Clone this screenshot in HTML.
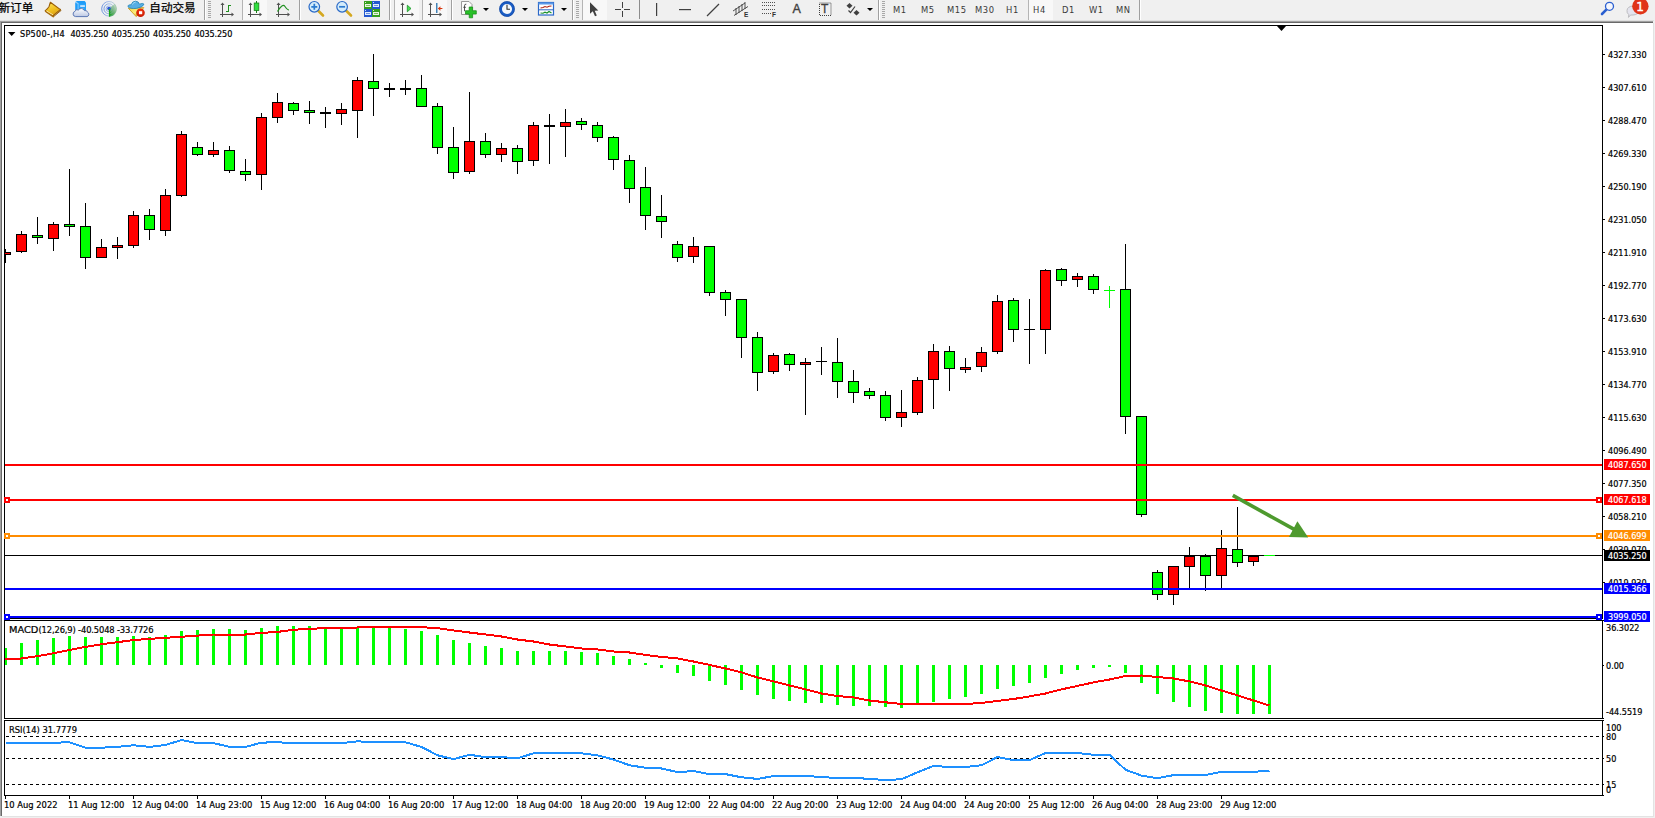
<!DOCTYPE html>
<html lang="zh-CN"><head><meta charset="utf-8"><title>SP500-,H4</title>
<style>
html,body{margin:0;padding:0}
body{width:1655px;height:818px;overflow:hidden;position:relative;background:#f0f0f0;
font-family:"Liberation Sans","Noto Sans CJK SC",sans-serif}
.win{position:absolute;left:0;top:21px;width:1653px;height:795px;background:#fff;
border-left:1px solid #a0a0a0;border-top:1px solid #a0a0a0;box-sizing:border-box}
.win:before{content:"";position:absolute;left:0;top:0;right:0;bottom:0;border-left:1px solid #696969;border-top:1px solid #696969}
.edge-r{position:absolute;left:1653px;top:23px;width:1px;height:794px;background:#e3e3e3}
.edge-b{position:absolute;left:2px;top:816px;width:1652px;height:1px;background:#e3e3e3}
.chart{position:absolute;left:0;top:0}
.t{position:absolute;font-family:"DejaVu Sans Condensed","DejaVu Sans","Liberation Sans",sans-serif;font-stretch:condensed;font-size:9.3px;line-height:11px;height:11px;white-space:nowrap;color:#000;-webkit-text-stroke:.2px #000}
.n{font-size:9px}
.ti{font-size:9px;letter-spacing:.07px}
.tag{position:absolute;left:1604px;width:46px;height:11px;box-sizing:border-box;padding-left:4px;
font-family:"DejaVu Sans Condensed","DejaVu Sans","Liberation Sans",sans-serif;font-stretch:condensed;font-size:9px;line-height:11px;padding-top:1px;color:#fff;white-space:nowrap;-webkit-text-stroke:.2px #fff}
.tb{position:absolute;left:0;top:0;width:1655px;height:21px;background:#f0f0f0;overflow:hidden}
.tb .cj{position:absolute;top:0px;font-size:11.600px;line-height:15px;color:#000;white-space:nowrap;-webkit-text-stroke:.25px #000}
.tb svg{position:absolute;top:0;overflow:visible}
.tb .sep{position:absolute;top:0;width:1px;height:20px;background:#a0a0a0;box-shadow:1px 0 0 #fff}
.tb .grip{position:absolute;top:1px;width:3px;height:18px;background:repeating-linear-gradient(to bottom,#a8a8a8 0,#a8a8a8 1px,#f0f0f0 1px,#f0f0f0 2px)}
.tb .on{position:absolute;top:0;height:20px;background:#f8f8f8;border-left:1px solid #b4b4b4;box-sizing:border-box}
.tb .tf{position:absolute;top:4px;font-family:"DejaVu Sans Condensed","DejaVu Sans","Liberation Sans",sans-serif;font-stretch:condensed;font-size:9.3px;line-height:11px;color:#3a3a3a;white-space:nowrap;letter-spacing:.6px}
.tb .dd{position:absolute;top:8px;width:0;height:0;border-left:3px solid transparent;border-right:3px solid transparent;border-top:3.5px solid #000}
.tb .bdg{position:absolute;left:1634.500px;top:1px;width:11px;text-align:center;font:12px/13px "DejaVu Sans","Liberation Sans",sans-serif;color:#fff;-webkit-text-stroke:.4px #fff}
.tb .ia{position:absolute;left:792.500px;top:2px;font-size:12.500px;line-height:15px;color:#404040;-webkit-text-stroke:.35px #404040}
.tb .it{position:absolute;left:821px;top:3px;font-size:12px;line-height:13px;color:#404040;-webkit-text-stroke:.3px #404040}
.tb .ie{position:absolute;top:11px;font-size:6.5px;line-height:7px;color:#303030;font-weight:bold}
.hr1{position:absolute;left:0;top:20px;width:1654px;height:1px;background:#e0e0e0}

</style></head><body>
<div class="tb">
<div class="cj" style="left:-1.500px">新订单</div>
<svg style="left:44px" width="18" height="20" viewBox="0 0 18 20"><defs><linearGradient id="gd" x1="0.2" y1="0" x2="0.7" y2="1"><stop offset="0" stop-color="#fbe258"/><stop offset="0.55" stop-color="#f0c020"/><stop offset="1" stop-color="#d89c14"/></linearGradient></defs><path d="M9.6,16.6 L17,10.5 L16.2,9.2 L9.2,15.2 z" fill="#d8c088" stroke="#8c5408" stroke-width="0.9"/><path d="M6.4,2.2 L16.4,9.6 L9.1,15.6 L1.1,10.9 Q4.4,8 5.1,6.4 Q5.7,4.2 6.4,2.2 z" fill="url(#gd)" stroke="#9a5e08" stroke-width="1.1" stroke-linejoin="round"/><path d="M1.2,11.3 L9.2,16.7 L9.9,16.4" fill="none" stroke="#a86c0c" stroke-width="1.2"/><path d="M2.4,10.9 L9,14.8" fill="none" stroke="#f8e498" stroke-width="1"/></svg>
<svg style="left:72px" width="18" height="20" viewBox="0 0 18 20"><defs><linearGradient id="cl" x1="0" y1="0" x2="0" y2="1"><stop offset="0" stop-color="#ffffff"/><stop offset="1" stop-color="#bcc8e4"/></linearGradient></defs><path d="M3.2,2 L5,1.1 L12.6,1.1 L14,2.4 L14,10.5 L3.2,10.5 z" fill="#1e9cf8"/><path d="M3.2,2.2 L6.2,3.4 L6.2,10.5" fill="none" stroke="#e8f4ff" stroke-width="0.7"/><rect x="6.600" y="3.600" width="7" height="6.500" fill="#2aa4fa"/><rect x="8.200" y="5.300" width="4.700" height="1.500" fill="#eaf4ff"/><rect x="8.200" y="8" width="3" height="1" fill="#d0e8ff"/><path d="M3.600,16.600 a2.700,2.700 0 0 1 -0.500,-5.300 a2.300,2.300 0 0 1 3.300,-1.300 a3.400,3.400 0 0 1 6,0.600 a2.600,2.600 0 0 1 3.200,1.700 a2.300,2.300 0 0 1 -0.600,4.300 z" fill="url(#cl)" stroke="#4e6cae" stroke-width="0.9"/></svg>
<svg style="left:100px" width="18" height="20" viewBox="0 0 18 20"><defs><linearGradient id="gw" x1="0.9" y1="0" x2="0.2" y2="1"><stop offset="0" stop-color="#b4d4b0" stop-opacity="0.55"/><stop offset="0.55" stop-color="#60b060" stop-opacity="0.85"/><stop offset="1" stop-color="#18a018"/></linearGradient></defs><circle cx="9" cy="8.800" r="7.600" fill="#e8eef4" fill-opacity="0.6"/><path d="M9,8.800 L9,16.500 A7.700,7.700 0 0 0 14.800,3.700 z" fill="url(#gw)"/><linearGradient id="rg" gradientUnits="userSpaceOnUse" x1="1" y1="0" x2="17" y2="0"><stop offset="0" stop-color="#4c7cd8" stop-opacity="0.95"/><stop offset="0.5" stop-color="#7c9ce0" stop-opacity="0.6"/><stop offset="1" stop-color="#7caa9c" stop-opacity="0.35"/></linearGradient><g fill="none" stroke="url(#rg)"><circle cx="9" cy="8.800" r="7.300" stroke-width="0.9"/><circle cx="9" cy="8.800" r="5" stroke-width="1"/><circle cx="9" cy="8.800" r="2.900" stroke-width="0.9"/></g><circle cx="9" cy="8.600" r="1.800" fill="#2a58d4"/><rect x="8.900" y="8.900" width="1.300" height="7.700" fill="#18a418"/></svg>
<svg style="left:127px" width="20" height="20" viewBox="0 0 20 20"><defs><linearGradient id="yf" x1="0" y1="0" x2="0.6" y2="1"><stop offset="0" stop-color="#f4d040"/><stop offset="0.6" stop-color="#fbf080"/><stop offset="1" stop-color="#e0a818"/></linearGradient><radialGradient id="rd" cx="0.5" cy="0.35" r="0.7"><stop offset="0" stop-color="#f83a10"/><stop offset="1" stop-color="#c01400"/></radialGradient></defs><path d="M1.300,8.200 L16.800,7.600 L9.200,16.600 z" fill="url(#yf)" stroke="#c8920c" stroke-width="0.8" stroke-linejoin="round"/><path d="M1,6.800 Q0.600,4.500 4.200,4.800 Q5.200,1 8.600,1.200 Q11.800,1.300 12.400,4.200 Q15.800,2.600 17,4.200 Q16.200,7.200 9.400,8.400 Q3,9 1,6.800 z" fill="#56aee4" stroke="#2484b4" stroke-width="0.8"/><path d="M5.400,4.600 Q6.400,2 8.600,2.200" fill="none" stroke="#a8dcf8" stroke-width="0.9"/><circle cx="13.500" cy="12.800" r="4.300" fill="url(#rd)"/><rect x="12" y="11.200" width="3.200" height="3" fill="#fff"/></svg>
<div class="cj" style="left:149.300px">自动交易</div>
<div class="sep" style="left:204px"></div><div class="grip" style="left:208px"></div>
<svg style="left:218px" width="18" height="20" viewBox="0 0 18 20" shape-rendering="crispEdges"><rect x="4" y="4" width="1" height="13" fill="#505050"/><rect x="2" y="14" width="12" height="1" fill="#505050"/><polygon points="4.5,2.5 6.5,5 2.5,5" fill="#505050" shape-rendering="geometricPrecision"/><polygon points="16,14.5 13.5,12.5 13.5,16.5" fill="#505050" shape-rendering="geometricPrecision"/><rect x="10" y="4.500" width="1.300" height="7.5" fill="#209020"/><rect x="10" y="4.500" width="3" height="1.200" fill="#209020"/><rect x="8" y="11" width="3" height="1.200" fill="#209020"/></svg>
<div class="on" style="left:242px;width:25px"></div>
<svg style="left:246px" width="18" height="20" viewBox="0 0 18 20" shape-rendering="crispEdges"><rect x="4" y="4" width="1" height="13" fill="#505050"/><rect x="2" y="14" width="12" height="1" fill="#505050"/><polygon points="4.500,2.500 6.500,5 2.500,5" fill="#505050" shape-rendering="geometricPrecision"/><polygon points="16,14.500 13.500,12.500 13.500,16.500" fill="#505050" shape-rendering="geometricPrecision"/><rect x="10" y="1" width="1.200" height="12" fill="#188018"/><rect x="8.200" y="3" width="4.600" height="7.500" fill="#30e040" stroke="#188018" stroke-width="0.8" shape-rendering="geometricPrecision"/></svg>
<svg style="left:274px" width="18" height="20" viewBox="0 0 18 20"><rect x="4" y="4" width="1" height="13" fill="#505050"/><rect x="2" y="14" width="12" height="1" fill="#505050"/><polygon points="4.500,2.500 6.500,5 2.500,5" fill="#505050"/><polygon points="16,14.500 13.500,12.500 13.500,16.500" fill="#505050"/><path d="M3.500,11.500 Q8.500,3 11,6.500 T15,10" fill="none" stroke="#209020" stroke-width="1.200"/></svg>
<div class="sep" style="left:299px"></div>
<svg style="left:306px" width="20" height="20" viewBox="0 0 20 20"><line x1="12" y1="10.500" x2="17" y2="15.500" stroke="#d4a820" stroke-width="2.600" stroke-linecap="round"/><circle cx="8.300" cy="6.800" r="5.300" fill="#d4ecfa" stroke="#2a6ac8" stroke-width="1.200"/><path d="M5.300,6.800 h6 M8.300,3.800 v6" stroke="#2a7ad0" stroke-width="1.700" fill="none"/></svg>
<svg style="left:334px" width="20" height="20" viewBox="0 0 20 20"><line x1="12" y1="10.500" x2="17" y2="15.500" stroke="#d4a820" stroke-width="2.600" stroke-linecap="round"/><circle cx="8.100" cy="6.800" r="5.300" fill="#d4ecfa" stroke="#2a6ac8" stroke-width="1.200"/><path d="M5.100,6.800 h6" stroke="#2a7ad0" stroke-width="1.700" fill="none"/></svg>
<svg style="left:364px" width="17" height="20" viewBox="0 0 17 20" shape-rendering="crispEdges"><rect x="0" y="1" width="8" height="8" fill="#38a020"/><rect x="8" y="1" width="8" height="8" fill="#2458d0"/><rect x="0" y="9" width="8" height="8" fill="#2458d0"/><rect x="8" y="9" width="8" height="8" fill="#38a020"/><rect x="1" y="4" width="6" height="3" fill="#eaf6e2"/><rect x="9" y="4" width="6" height="3" fill="#e0ecfc"/><rect x="1" y="12" width="6" height="3" fill="#e0ecfc"/><rect x="9" y="12" width="6" height="3" fill="#eaf6e2"/><rect x="2" y="5" width="4" height="1" fill="#7cc060"/><rect x="10" y="5" width="4" height="1" fill="#6a90e0"/><rect x="2" y="13" width="4" height="1" fill="#6a90e0"/><rect x="10" y="13" width="4" height="1" fill="#7cc060"/><rect x="1" y="2" width="1" height="1" fill="#d8f0c8"/><rect x="9" y="2" width="1" height="1" fill="#c8dcfa"/><rect x="1" y="10" width="1" height="1" fill="#c8dcfa"/><rect x="9" y="10" width="1" height="1" fill="#d8f0c8"/></svg>
<div class="sep" style="left:389px"></div>
<div class="on" style="left:394px;width:25px"></div>
<svg style="left:398px" width="18" height="20" viewBox="0 0 18 20"><rect x="4" y="4" width="1" height="13" fill="#505050"/><rect x="2" y="14" width="12" height="1" fill="#505050"/><polygon points="4.500,2.500 6.500,5 2.500,5" fill="#505050"/><polygon points="16,14.500 13.500,12.500 13.500,16.500" fill="#505050"/><polygon points="9.300,5.200 13,8.500 9.300,11.800" fill="#48e050" stroke="#189028" stroke-width="0.800"/></svg>
<div class="on" style="left:422px;width:25px"></div>
<svg style="left:426px" width="18" height="20" viewBox="0 0 18 20"><rect x="4" y="4" width="1" height="13" fill="#505050"/><rect x="2" y="14" width="12" height="1" fill="#505050"/><polygon points="4.500,2.500 6.500,5 2.500,5" fill="#505050"/><polygon points="16,14.500 13.500,12.500 13.500,16.500" fill="#505050"/><rect x="10.200" y="3" width="1.200" height="10" fill="#1868a8"/><path d="M11.800,8.500 l2.600,-2.300 v1.700 h2 v1.200 h-2 v1.700 z" fill="#d83810"/></svg>
<div class="sep" style="left:451px"></div>
<svg style="left:459px" width="20" height="20" viewBox="0 0 20 20"><path d="M2.500,1.500 h7.500 l3,3 v10 h-10.500 z" fill="#fcfcfc" stroke="#909090" stroke-width="0.900"/><path d="M7.300,4.200 q-1.800,-0.300 -1.800,1.600 v5.400 M4.300,7.300 h2.600" fill="none" stroke="#404040" stroke-width="0.900"/><path d="M10.200,7 h3.400 v3.700 h3.700 v3.400 h-3.700 v3.700 h-3.400 v-3.700 h-3.700 v-3.400 h3.700 z" fill="#28c028" stroke="#108810" stroke-width="0.700"/></svg>
<div class="dd" style="left:483px"></div>
<svg style="left:498px" width="18" height="20" viewBox="0 0 18 20"><circle cx="9" cy="9" r="6.400" fill="#f4f8fc" stroke="#1a5cc4" stroke-width="2.700"/><circle cx="9" cy="9" r="7.500" fill="none" stroke="#0c3c94" stroke-width="0.5"/><path d="M9,4.800 v4.400 h3" fill="none" stroke="#303030" stroke-width="1.100"/></svg>
<div class="dd" style="left:522px"></div>
<svg style="left:537px" width="18" height="20" viewBox="0 0 18 20"><rect x="1.500" y="2.500" width="15" height="12.500" fill="#fff" stroke="#2a68c8" stroke-width="1.200"/><rect x="1.500" y="2.500" width="15" height="2" fill="#5a98e8"/><rect x="2" y="9.300" width="14" height="1" fill="#2a68c8"/><polyline points="3.500,8 6,7.500 8,6.500 10,7.200 12,6.300 14.500,6" fill="none" stroke="#b02010" stroke-width="1.100"/><polyline points="3.500,13 6,13.300 8,12.200 10,13 12,11.500 14.500,13" fill="none" stroke="#189028" stroke-width="1.100"/></svg>
<div class="dd" style="left:561px"></div>
<div class="sep" style="left:572px"></div><div class="grip" style="left:576px"></div>
<div class="on" style="left:582px;width:25px"></div>
<svg style="left:586px" width="16" height="20" viewBox="0 0 16 20"><path d="M4,2.200 L4,13.800 L6.800,11.300 L9,16.300 L10.800,15.500 L8.700,10.700 L12.300,10.500 z" fill="#404040"/></svg>
<svg style="left:613px" width="20" height="20" viewBox="0 0 20 20" shape-rendering="crispEdges"><rect x="9" y="2" width="1" height="6" fill="#404040"/><rect x="9" y="11" width="1" height="6" fill="#404040"/><rect x="2" y="9" width="6" height="1" fill="#404040"/><rect x="11" y="9" width="6" height="1" fill="#404040"/></svg>
<div class="sep" style="left:639px;box-shadow:none;background:#8c8c8c;height:19px"></div>
<svg style="left:650px" width="200" height="20" viewBox="0 0 200 20"><rect x="6" y="3" width="1.200" height="13" fill="#404040"/><rect x="29" y="9" width="12" height="1.200" fill="#404040"/><line x1="57" y1="16" x2="69" y2="4" stroke="#404040" stroke-width="1.200"/>
<g stroke="#404040" stroke-width="0.900" fill="none"><line x1="83" y1="11" x2="95" y2="3"/><line x1="84" y1="15.500" x2="98" y2="6.500"/><line x1="86" y1="8" x2="86" y2="15"/><line x1="89" y1="6" x2="89" y2="13"/><line x1="92" y1="4" x2="92" y2="11"/><line x1="95" y1="2" x2="95" y2="9"/></g>
<g stroke="#505050" stroke-width="1.100" stroke-dasharray="1 1" fill="none"><line x1="112" y1="2.500" x2="126" y2="2.500"/><line x1="112" y1="5.500" x2="126" y2="5.500"/><line x1="112" y1="9.500" x2="126" y2="9.500"/><line x1="112" y1="13.500" x2="121" y2="13.500"/></g>
<rect x="169.500" y="3" width="11.500" height="12.500" fill="none" stroke="#404040" stroke-width="1" stroke-dasharray="1 1"/>
<polygon points="199.500,3 202.500,5.800 199.500,8.600 196.500,5.800" fill="#404040"/><polygon points="206.500,10 209.500,12.800 206.500,15.600 203.500,12.800" fill="#404040"/><polyline points="198.500,10.500 200.500,12.500 205,6.500" fill="none" stroke="#404040" stroke-width="1.200"/></svg>
<div class="ie" style="left:744px">E</div><div class="ie" style="left:772px">F</div>
<div class="ia">A</div><div class="it">T</div>
<div class="dd" style="left:867px"></div>
<div class="sep" style="left:878px"></div><div class="grip" style="left:882px"></div>
<div class="tf" style="left:893px">M1</div><div class="tf" style="left:921px">M5</div><div class="tf" style="left:947px">M15</div><div class="tf" style="left:975px">M30</div><div class="tf" style="left:1006px">H1</div>
<div class="on" style="left:1028px;width:25px"></div><div class="tf" style="left:1033px">H4</div>
<div class="tf" style="left:1062px">D1</div><div class="tf" style="left:1089px">W1</div><div class="tf" style="left:1116px">MN</div>
<div class="sep" style="left:1139px"></div>
<svg style="left:1598px" width="20" height="20" viewBox="0 0 20 20"><line x1="8.600" y1="9.400" x2="4" y2="14" stroke="#2a5fd0" stroke-width="2.600" stroke-linecap="round"/><circle cx="11.500" cy="6.300" r="4" fill="#f4f6fc" stroke="#2a5fd0" stroke-width="1.300"/></svg>
<svg style="left:1624px" width="30" height="20" viewBox="0 0 30 20"><path d="M3,10.500 a6,4.500 0 0 1 12,0 a6,4.500 0 0 1 -6,4.500 h-2.500 l-2,2.400 l0.300,-2.800 a5,4.500 0 0 1 -1.800,-4.100 z" fill="#e4e4ee" stroke="#b0b0b4" stroke-width="0.800"/><circle cx="16.400" cy="6.300" r="8.200" fill="#e03418"/></svg>
<div class="bdg">1</div>
</div>
<div class="hr1"></div>

<div class="win"></div><div class="edge-r"></div><div class="edge-b"></div>
<svg class="chart" width="1655" height="818" viewBox="0 0 1655 818" shape-rendering="crispEdges"><rect x="5" y="555" width="1597" height="1" fill="#000"/><rect x="5" y="249" width="1" height="14" fill="#000"/><rect x="5" y="252" width="6" height="3" fill="#000"/><rect x="5" y="253" width="5" height="1" fill="#f00"/><rect x="21" y="231" width="1" height="22" fill="#000"/><rect x="16" y="234" width="11" height="18" fill="#000"/><rect x="17" y="235" width="9" height="16" fill="#f00"/><rect x="37" y="217" width="1" height="27" fill="#000"/><rect x="32" y="235" width="11" height="3" fill="#000"/><rect x="33" y="236" width="9" height="1" fill="#0f0"/><rect x="53" y="222" width="1" height="29" fill="#000"/><rect x="48" y="224" width="11" height="15" fill="#000"/><rect x="49" y="225" width="9" height="13" fill="#f00"/><rect x="69" y="169" width="1" height="67" fill="#000"/><rect x="64" y="224" width="11" height="3" fill="#000"/><rect x="65" y="225" width="9" height="1" fill="#0f0"/><rect x="85" y="203" width="1" height="66" fill="#000"/><rect x="80" y="226" width="11" height="32" fill="#000"/><rect x="81" y="227" width="9" height="30" fill="#0f0"/><rect x="101" y="239" width="1" height="19" fill="#000"/><rect x="96" y="247" width="11" height="11" fill="#000"/><rect x="97" y="248" width="9" height="9" fill="#f00"/><rect x="117" y="237" width="1" height="22" fill="#000"/><rect x="112" y="245" width="11" height="3" fill="#000"/><rect x="113" y="246" width="9" height="1" fill="#f00"/><rect x="133" y="211" width="1" height="37" fill="#000"/><rect x="128" y="215" width="11" height="31" fill="#000"/><rect x="129" y="216" width="9" height="29" fill="#f00"/><rect x="149" y="209" width="1" height="31" fill="#000"/><rect x="144" y="215" width="11" height="15" fill="#000"/><rect x="145" y="216" width="9" height="13" fill="#0f0"/><rect x="165" y="189" width="1" height="47" fill="#000"/><rect x="160" y="195" width="11" height="36" fill="#000"/><rect x="161" y="196" width="9" height="34" fill="#f00"/><rect x="181" y="131" width="1" height="66" fill="#000"/><rect x="176" y="134" width="11" height="62" fill="#000"/><rect x="177" y="135" width="9" height="60" fill="#f00"/><rect x="197" y="142" width="1" height="14" fill="#000"/><rect x="192" y="147" width="11" height="8" fill="#000"/><rect x="193" y="148" width="9" height="6" fill="#0f0"/><rect x="213" y="142" width="1" height="15" fill="#000"/><rect x="208" y="150" width="11" height="5" fill="#000"/><rect x="209" y="151" width="9" height="3" fill="#f00"/><rect x="229" y="146" width="1" height="27" fill="#000"/><rect x="224" y="150" width="11" height="21" fill="#000"/><rect x="225" y="151" width="9" height="19" fill="#0f0"/><rect x="245" y="159" width="1" height="22" fill="#000"/><rect x="240" y="171" width="11" height="4" fill="#000"/><rect x="241" y="172" width="9" height="2" fill="#0f0"/><rect x="261" y="113" width="1" height="77" fill="#000"/><rect x="256" y="117" width="11" height="58" fill="#000"/><rect x="257" y="118" width="9" height="56" fill="#f00"/><rect x="277" y="93" width="1" height="30" fill="#000"/><rect x="272" y="102" width="11" height="16" fill="#000"/><rect x="273" y="103" width="9" height="14" fill="#f00"/><rect x="293" y="102" width="1" height="13" fill="#000"/><rect x="288" y="103" width="11" height="8" fill="#000"/><rect x="289" y="104" width="9" height="6" fill="#0f0"/><rect x="309" y="101" width="1" height="23" fill="#000"/><rect x="304" y="110" width="11" height="3" fill="#000"/><rect x="305" y="111" width="9" height="1" fill="#0f0"/><rect x="325" y="107" width="1" height="21" fill="#000"/><rect x="320" y="112" width="11" height="2" fill="#000"/><rect x="341" y="103" width="1" height="22" fill="#000"/><rect x="336" y="109" width="11" height="5" fill="#000"/><rect x="337" y="110" width="9" height="3" fill="#f00"/><rect x="357" y="77" width="1" height="61" fill="#000"/><rect x="352" y="80" width="11" height="31" fill="#000"/><rect x="353" y="81" width="9" height="29" fill="#f00"/><rect x="373" y="54" width="1" height="62" fill="#000"/><rect x="368" y="81" width="11" height="8" fill="#000"/><rect x="369" y="82" width="9" height="6" fill="#0f0"/><rect x="389" y="83" width="1" height="14" fill="#000"/><rect x="384" y="88" width="11" height="2" fill="#000"/><rect x="405" y="80" width="1" height="15" fill="#000"/><rect x="400" y="88" width="11" height="2" fill="#000"/><rect x="421" y="75" width="1" height="32" fill="#000"/><rect x="416" y="88" width="11" height="19" fill="#000"/><rect x="417" y="89" width="9" height="17" fill="#0f0"/><rect x="437" y="103" width="1" height="51" fill="#000"/><rect x="432" y="106" width="11" height="42" fill="#000"/><rect x="433" y="107" width="9" height="40" fill="#0f0"/><rect x="453" y="127" width="1" height="52" fill="#000"/><rect x="448" y="147" width="11" height="26" fill="#000"/><rect x="449" y="148" width="9" height="24" fill="#0f0"/><rect x="469" y="92" width="1" height="82" fill="#000"/><rect x="464" y="141" width="11" height="31" fill="#000"/><rect x="465" y="142" width="9" height="29" fill="#f00"/><rect x="485" y="133" width="1" height="25" fill="#000"/><rect x="480" y="141" width="11" height="14" fill="#000"/><rect x="481" y="142" width="9" height="12" fill="#0f0"/><rect x="501" y="143" width="1" height="19" fill="#000"/><rect x="496" y="148" width="11" height="7" fill="#000"/><rect x="497" y="149" width="9" height="5" fill="#f00"/><rect x="517" y="145" width="1" height="29" fill="#000"/><rect x="512" y="148" width="11" height="14" fill="#000"/><rect x="513" y="149" width="9" height="12" fill="#0f0"/><rect x="533" y="122" width="1" height="44" fill="#000"/><rect x="528" y="125" width="11" height="36" fill="#000"/><rect x="529" y="126" width="9" height="34" fill="#f00"/><rect x="549" y="114" width="1" height="50" fill="#000"/><rect x="544" y="125" width="11" height="2" fill="#000"/><rect x="565" y="109" width="1" height="48" fill="#000"/><rect x="560" y="122" width="11" height="5" fill="#000"/><rect x="561" y="123" width="9" height="3" fill="#f00"/><rect x="581" y="118" width="1" height="12" fill="#000"/><rect x="576" y="121" width="11" height="4" fill="#000"/><rect x="577" y="122" width="9" height="2" fill="#0f0"/><rect x="597" y="122" width="1" height="20" fill="#000"/><rect x="592" y="125" width="11" height="13" fill="#000"/><rect x="593" y="126" width="9" height="11" fill="#0f0"/><rect x="613" y="136" width="1" height="34" fill="#000"/><rect x="608" y="137" width="11" height="23" fill="#000"/><rect x="609" y="138" width="9" height="21" fill="#0f0"/><rect x="629" y="155" width="1" height="48" fill="#000"/><rect x="624" y="160" width="11" height="29" fill="#000"/><rect x="625" y="161" width="9" height="27" fill="#0f0"/><rect x="645" y="167" width="1" height="63" fill="#000"/><rect x="640" y="187" width="11" height="29" fill="#000"/><rect x="641" y="188" width="9" height="27" fill="#0f0"/><rect x="661" y="195" width="1" height="43" fill="#000"/><rect x="656" y="216" width="11" height="6" fill="#000"/><rect x="657" y="217" width="9" height="4" fill="#0f0"/><rect x="677" y="241" width="1" height="21" fill="#000"/><rect x="672" y="244" width="11" height="14" fill="#000"/><rect x="673" y="245" width="9" height="12" fill="#0f0"/><rect x="693" y="237" width="1" height="26" fill="#000"/><rect x="688" y="246" width="11" height="11" fill="#000"/><rect x="689" y="247" width="9" height="9" fill="#f00"/><rect x="709" y="246" width="1" height="50" fill="#000"/><rect x="704" y="246" width="11" height="47" fill="#000"/><rect x="705" y="247" width="9" height="45" fill="#0f0"/><rect x="725" y="290" width="1" height="26" fill="#000"/><rect x="720" y="292" width="11" height="8" fill="#000"/><rect x="721" y="293" width="9" height="6" fill="#0f0"/><rect x="741" y="299" width="1" height="59" fill="#000"/><rect x="736" y="299" width="11" height="39" fill="#000"/><rect x="737" y="300" width="9" height="37" fill="#0f0"/><rect x="757" y="332" width="1" height="59" fill="#000"/><rect x="752" y="337" width="11" height="36" fill="#000"/><rect x="753" y="338" width="9" height="34" fill="#0f0"/><rect x="773" y="353" width="1" height="21" fill="#000"/><rect x="768" y="355" width="11" height="17" fill="#000"/><rect x="769" y="356" width="9" height="15" fill="#f00"/><rect x="789" y="353" width="1" height="18" fill="#000"/><rect x="784" y="354" width="11" height="11" fill="#000"/><rect x="785" y="355" width="9" height="9" fill="#0f0"/><rect x="805" y="358" width="1" height="57" fill="#000"/><rect x="800" y="362" width="11" height="3" fill="#000"/><rect x="801" y="363" width="9" height="1" fill="#f00"/><rect x="821" y="347" width="1" height="28" fill="#000"/><rect x="816" y="361" width="11" height="1" fill="#000"/><rect x="837" y="338" width="1" height="60" fill="#000"/><rect x="832" y="362" width="11" height="20" fill="#000"/><rect x="833" y="363" width="9" height="18" fill="#0f0"/><rect x="853" y="370" width="1" height="33" fill="#000"/><rect x="848" y="381" width="11" height="12" fill="#000"/><rect x="849" y="382" width="9" height="10" fill="#0f0"/><rect x="869" y="388" width="1" height="11" fill="#000"/><rect x="864" y="391" width="11" height="5" fill="#000"/><rect x="865" y="392" width="9" height="3" fill="#0f0"/><rect x="885" y="391" width="1" height="30" fill="#000"/><rect x="880" y="395" width="11" height="23" fill="#000"/><rect x="881" y="396" width="9" height="21" fill="#0f0"/><rect x="901" y="390" width="1" height="37" fill="#000"/><rect x="896" y="412" width="11" height="6" fill="#000"/><rect x="897" y="413" width="9" height="4" fill="#f00"/><rect x="917" y="377" width="1" height="38" fill="#000"/><rect x="912" y="380" width="11" height="33" fill="#000"/><rect x="913" y="381" width="9" height="31" fill="#f00"/><rect x="933" y="344" width="1" height="65" fill="#000"/><rect x="928" y="351" width="11" height="29" fill="#000"/><rect x="929" y="352" width="9" height="27" fill="#f00"/><rect x="949" y="346" width="1" height="45" fill="#000"/><rect x="944" y="351" width="11" height="18" fill="#000"/><rect x="945" y="352" width="9" height="16" fill="#0f0"/><rect x="965" y="358" width="1" height="15" fill="#000"/><rect x="960" y="367" width="11" height="3" fill="#000"/><rect x="961" y="368" width="9" height="1" fill="#f00"/><rect x="981" y="347" width="1" height="25" fill="#000"/><rect x="976" y="352" width="11" height="15" fill="#000"/><rect x="977" y="353" width="9" height="13" fill="#f00"/><rect x="997" y="295" width="1" height="59" fill="#000"/><rect x="992" y="301" width="11" height="51" fill="#000"/><rect x="993" y="302" width="9" height="49" fill="#f00"/><rect x="1013" y="298" width="1" height="44" fill="#000"/><rect x="1008" y="300" width="11" height="30" fill="#000"/><rect x="1009" y="301" width="9" height="28" fill="#0f0"/><rect x="1029" y="299" width="1" height="65" fill="#000"/><rect x="1024" y="329" width="11" height="1" fill="#000"/><rect x="1045" y="269" width="1" height="85" fill="#000"/><rect x="1040" y="270" width="11" height="60" fill="#000"/><rect x="1041" y="271" width="9" height="58" fill="#f00"/><rect x="1061" y="268" width="1" height="18" fill="#000"/><rect x="1056" y="269" width="11" height="12" fill="#000"/><rect x="1057" y="270" width="9" height="10" fill="#0f0"/><rect x="1077" y="273" width="1" height="14" fill="#000"/><rect x="1072" y="276" width="11" height="4" fill="#000"/><rect x="1073" y="277" width="9" height="2" fill="#f00"/><rect x="1093" y="274" width="1" height="20" fill="#000"/><rect x="1088" y="276" width="11" height="14" fill="#000"/><rect x="1089" y="277" width="9" height="12" fill="#0f0"/><rect x="1109" y="286" width="1" height="22" fill="#0f0"/><rect x="1104" y="290" width="11" height="1" fill="#0f0"/><rect x="1125" y="244" width="1" height="190" fill="#000"/><rect x="1120" y="289" width="11" height="128" fill="#000"/><rect x="1121" y="290" width="9" height="126" fill="#0f0"/><rect x="1141" y="416" width="1" height="101" fill="#000"/><rect x="1136" y="416" width="11" height="99" fill="#000"/><rect x="1137" y="417" width="9" height="97" fill="#0f0"/><rect x="1157" y="570" width="1" height="30" fill="#000"/><rect x="1152" y="572" width="11" height="23" fill="#000"/><rect x="1153" y="573" width="9" height="21" fill="#0f0"/><rect x="1173" y="566" width="1" height="39" fill="#000"/><rect x="1168" y="566" width="11" height="29" fill="#000"/><rect x="1169" y="567" width="9" height="27" fill="#f00"/><rect x="1189" y="547" width="1" height="42" fill="#000"/><rect x="1184" y="556" width="11" height="11" fill="#000"/><rect x="1185" y="557" width="9" height="9" fill="#f00"/><rect x="1205" y="554" width="1" height="37" fill="#000"/><rect x="1200" y="556" width="11" height="20" fill="#000"/><rect x="1201" y="557" width="9" height="18" fill="#0f0"/><rect x="1221" y="530" width="1" height="59" fill="#000"/><rect x="1216" y="548" width="11" height="28" fill="#000"/><rect x="1217" y="549" width="9" height="26" fill="#f00"/><rect x="1237" y="507" width="1" height="60" fill="#000"/><rect x="1232" y="549" width="11" height="14" fill="#000"/><rect x="1233" y="550" width="9" height="12" fill="#0f0"/><rect x="1253" y="555" width="1" height="11" fill="#000"/><rect x="1248" y="556" width="11" height="6" fill="#000"/><rect x="1249" y="557" width="9" height="4" fill="#f00"/><rect x="1264" y="555" width="11" height="1" fill="#0f0"/><rect x="5" y="464" width="1597" height="2" fill="#f00"/><rect x="5" y="499" width="1597" height="2" fill="#f00"/><rect x="4" y="497" width="6" height="6" fill="#f00"/><rect x="6" y="499" width="2" height="2" fill="#fff"/><rect x="1596" y="497" width="6" height="6" fill="#f00"/><rect x="1598" y="499" width="2" height="2" fill="#fff"/><rect x="5" y="535" width="1597" height="2" fill="#ff8c00"/><rect x="4" y="533" width="6" height="6" fill="#ff8c00"/><rect x="6" y="535" width="2" height="2" fill="#fff"/><rect x="1596" y="533" width="6" height="6" fill="#ff8c00"/><rect x="1598" y="535" width="2" height="2" fill="#fff"/><rect x="5" y="588" width="1597" height="2" fill="#00f"/><rect x="5" y="616" width="1597" height="2" fill="#00f"/><rect x="4" y="614" width="6" height="6" fill="#00f"/><rect x="6" y="616" width="2" height="2" fill="#fff"/><rect x="1596" y="614" width="6" height="6" fill="#00f"/><rect x="1598" y="616" width="2" height="2" fill="#fff"/><g shape-rendering="geometricPrecision"><line x1="1232.8" y1="495.4" x2="1296" y2="530.4" stroke="#4e9a2e" stroke-width="3.6"/><polygon points="1297.4,521.2 1289,536.9 1308.2,537.6" fill="#4e9a2e"/></g><rect x="5" y="648" width="2" height="17" fill="#0f0"/><rect x="20" y="643" width="3" height="22" fill="#0f0"/><rect x="36" y="640" width="3" height="25" fill="#0f0"/><rect x="52" y="638" width="3" height="27" fill="#0f0"/><rect x="68" y="636" width="3" height="29" fill="#0f0"/><rect x="84" y="637" width="3" height="28" fill="#0f0"/><rect x="100" y="637" width="3" height="28" fill="#0f0"/><rect x="116" y="637" width="3" height="28" fill="#0f0"/><rect x="132" y="636" width="3" height="29" fill="#0f0"/><rect x="148" y="637" width="3" height="28" fill="#0f0"/><rect x="164" y="635" width="3" height="30" fill="#0f0"/><rect x="180" y="631" width="3" height="34" fill="#0f0"/><rect x="196" y="630" width="3" height="35" fill="#0f0"/><rect x="212" y="629" width="3" height="36" fill="#0f0"/><rect x="228" y="629" width="3" height="36" fill="#0f0"/><rect x="244" y="630" width="3" height="35" fill="#0f0"/><rect x="260" y="628" width="3" height="37" fill="#0f0"/><rect x="276" y="626" width="3" height="39" fill="#0f0"/><rect x="292" y="626" width="3" height="39" fill="#0f0"/><rect x="308" y="626" width="3" height="39" fill="#0f0"/><rect x="324" y="627" width="3" height="38" fill="#0f0"/><rect x="340" y="627" width="3" height="38" fill="#0f0"/><rect x="356" y="627" width="3" height="38" fill="#0f0"/><rect x="372" y="626" width="3" height="39" fill="#0f0"/><rect x="388" y="627" width="3" height="38" fill="#0f0"/><rect x="404" y="629" width="3" height="36" fill="#0f0"/><rect x="420" y="631" width="3" height="34" fill="#0f0"/><rect x="436" y="635" width="3" height="30" fill="#0f0"/><rect x="452" y="640" width="3" height="25" fill="#0f0"/><rect x="468" y="643" width="3" height="22" fill="#0f0"/><rect x="484" y="646" width="3" height="19" fill="#0f0"/><rect x="500" y="648" width="3" height="17" fill="#0f0"/><rect x="516" y="651" width="3" height="14" fill="#0f0"/><rect x="532" y="651" width="3" height="14" fill="#0f0"/><rect x="548" y="651" width="3" height="14" fill="#0f0"/><rect x="564" y="651" width="3" height="14" fill="#0f0"/><rect x="580" y="652" width="3" height="13" fill="#0f0"/><rect x="596" y="653" width="3" height="12" fill="#0f0"/><rect x="612" y="656" width="3" height="9" fill="#0f0"/><rect x="628" y="659" width="3" height="6" fill="#0f0"/><rect x="644" y="663" width="3" height="2" fill="#0f0"/><rect x="660" y="665" width="3" height="3" fill="#0f0"/><rect x="676" y="665" width="3" height="8" fill="#0f0"/><rect x="692" y="665" width="3" height="11" fill="#0f0"/><rect x="708" y="665" width="3" height="16" fill="#0f0"/><rect x="724" y="665" width="3" height="20" fill="#0f0"/><rect x="740" y="665" width="3" height="25" fill="#0f0"/><rect x="756" y="665" width="3" height="30" fill="#0f0"/><rect x="772" y="665" width="3" height="34" fill="#0f0"/><rect x="788" y="665" width="3" height="36" fill="#0f0"/><rect x="804" y="665" width="3" height="38" fill="#0f0"/><rect x="820" y="665" width="3" height="38" fill="#0f0"/><rect x="836" y="665" width="3" height="40" fill="#0f0"/><rect x="852" y="665" width="3" height="41" fill="#0f0"/><rect x="868" y="665" width="3" height="41" fill="#0f0"/><rect x="884" y="665" width="3" height="42" fill="#0f0"/><rect x="900" y="665" width="3" height="43" fill="#0f0"/><rect x="916" y="665" width="3" height="38" fill="#0f0"/><rect x="932" y="665" width="3" height="37" fill="#0f0"/><rect x="948" y="665" width="3" height="34" fill="#0f0"/><rect x="964" y="665" width="3" height="32" fill="#0f0"/><rect x="980" y="665" width="3" height="29" fill="#0f0"/><rect x="996" y="665" width="3" height="24" fill="#0f0"/><rect x="1012" y="665" width="3" height="21" fill="#0f0"/><rect x="1028" y="665" width="3" height="18" fill="#0f0"/><rect x="1044" y="665" width="3" height="13" fill="#0f0"/><rect x="1060" y="665" width="3" height="9" fill="#0f0"/><rect x="1076" y="665" width="3" height="5" fill="#0f0"/><rect x="1092" y="665" width="3" height="3" fill="#0f0"/><rect x="1108" y="665" width="3" height="2" fill="#0f0"/><rect x="1124" y="665" width="3" height="8" fill="#0f0"/><rect x="1140" y="665" width="3" height="18" fill="#0f0"/><rect x="1156" y="665" width="3" height="29" fill="#0f0"/><rect x="1172" y="665" width="3" height="37" fill="#0f0"/><rect x="1188" y="665" width="3" height="42" fill="#0f0"/><rect x="1204" y="665" width="3" height="46" fill="#0f0"/><rect x="1220" y="665" width="3" height="48" fill="#0f0"/><rect x="1236" y="665" width="3" height="49" fill="#0f0"/><rect x="1252" y="665" width="3" height="49" fill="#0f0"/><rect x="1268" y="665" width="3" height="49" fill="#0f0"/><polyline shape-rendering="crispEdges" points="5.5,659.5 21.5,658.5 37.5,656.2 53.5,653.3 69.5,650.0 85.5,646.9 101.5,644.2 117.5,642.2 133.5,640.0 149.5,638.9 165.5,637.8 181.5,636.8 197.5,635.6 213.5,634.5 229.5,634.5 245.5,634.5 261.5,632.9 277.5,631.9 293.5,629.8 309.5,628.8 325.5,628.2 341.5,628.2 357.5,627.5 373.5,627.1 389.5,627.1 405.5,627.1 421.5,627.1 437.5,628.2 453.5,630.4 469.5,632.5 485.5,634.5 501.5,636.5 517.5,639.5 533.5,641.5 549.5,644.5 565.5,646.5 581.5,648.5 597.5,649.5 613.5,651.5 629.5,652.5 645.5,654.9 661.5,656.9 677.5,658.4 693.5,661.5 709.5,664.9 725.5,668.5 741.5,672.3 757.5,677.5 773.5,681.4 789.5,685.5 805.5,689.4 821.5,693.5 837.5,696.0 853.5,697.4 869.5,700.5 885.5,702.3 901.5,704.0 917.5,704.0 933.5,704.0 949.5,704.0 965.5,704.0 981.5,702.9 997.5,700.9 1013.5,699.0 1029.5,696.4 1045.5,693.5 1061.5,689.4 1077.5,685.9 1093.5,682.4 1109.5,679.5 1125.5,676.0 1141.5,675.5 1157.5,677.0 1173.5,678.5 1189.5,681.4 1205.5,685.5 1221.5,690.5 1237.5,695.3 1253.5,700.5 1269.5,705.5" fill="none" stroke="#f00" stroke-width="2"/><line x1="6" y1="736.5" x2="1602" y2="736.5" stroke="#000" stroke-width="1" stroke-dasharray="3 3"/><line x1="6" y1="758.5" x2="1602" y2="758.5" stroke="#000" stroke-width="1" stroke-dasharray="3 3"/><line x1="6" y1="784.5" x2="1602" y2="784.5" stroke="#000" stroke-width="1" stroke-dasharray="3 3"/><polyline shape-rendering="crispEdges" points="5.5,743.1 21.5,743.1 37.5,743.1 53.5,742.7 69.5,742.3 85.5,747.7 101.5,747.7 117.5,746.9 133.5,745.2 149.5,746.9 165.5,744.9 181.5,740.1 197.5,743.1 213.5,743.1 229.5,746.9 245.5,746.9 261.5,742.6 277.5,742.3 293.5,743.1 309.5,743.1 325.5,743.1 341.5,743.1 357.5,741.3 373.5,742.3 389.5,742.3 405.5,742.3 421.5,746.9 437.5,755.3 453.5,759.1 469.5,754.8 485.5,757.1 501.5,757.1 517.5,758.3 533.5,753.3 549.5,753.3 565.5,753.3 581.5,753.3 597.5,755.3 613.5,759.6 629.5,765.2 645.5,767.8 661.5,768.5 677.5,772.1 693.5,771.1 709.5,774.1 725.5,774.1 741.5,777.3 757.5,778.9 773.5,776.1 789.5,776.1 805.5,776.1 821.5,776.9 837.5,778.2 853.5,778.2 869.5,778.7 885.5,780.2 901.5,779.2 917.5,772.3 933.5,766.0 949.5,767.0 965.5,767.0 981.5,765.2 997.5,757.1 1013.5,760.1 1029.5,760.1 1045.5,753.0 1061.5,753.0 1077.5,753.0 1093.5,754.8 1109.5,754.8 1125.5,769.8 1141.5,775.6 1157.5,778.2 1173.5,775.1 1189.5,775.1 1205.5,775.1 1221.5,771.8 1237.5,771.8 1253.5,771.8 1269.5,770.8" fill="none" stroke="#1e90ff" stroke-width="2"/><rect x="4" y="25" width="1599" height="1" fill="#000"/><rect x="4" y="618" width="1599" height="1" fill="#000"/><rect x="4" y="25" width="1" height="594" fill="#000"/><rect x="1602" y="25" width="1" height="594" fill="#000"/><rect x="4" y="620" width="1599" height="1" fill="#000"/><rect x="4" y="718" width="1599" height="1" fill="#000"/><rect x="4" y="620" width="1" height="99" fill="#000"/><rect x="1602" y="620" width="1" height="99" fill="#000"/><rect x="4" y="720" width="1599" height="1" fill="#000"/><rect x="4" y="795" width="1599" height="1" fill="#000"/><rect x="4" y="720" width="1" height="76" fill="#000"/><rect x="1602" y="720" width="1" height="76" fill="#000"/><rect x="4" y="497" width="6" height="6" fill="#f00"/><rect x="6" y="499" width="2" height="2" fill="#fff"/><rect x="1596" y="497" width="6" height="6" fill="#f00"/><rect x="1598" y="499" width="2" height="2" fill="#fff"/><rect x="4" y="533" width="6" height="6" fill="#ff8c00"/><rect x="6" y="535" width="2" height="2" fill="#fff"/><rect x="1596" y="533" width="6" height="6" fill="#ff8c00"/><rect x="1598" y="535" width="2" height="2" fill="#fff"/><rect x="4" y="614" width="6" height="6" fill="#00f"/><rect x="6" y="616" width="2" height="2" fill="#fff"/><rect x="1596" y="614" width="6" height="6" fill="#00f"/><rect x="1598" y="616" width="2" height="2" fill="#fff"/><polygon shape-rendering="geometricPrecision" points="1276.5,25.5 1286.5,25.5 1281.5,31" fill="#000"/><polygon shape-rendering="geometricPrecision" points="8,32 15.4,32 11.7,36" fill="#000"/><rect x="1603" y="54" width="2" height="1" fill="#000"/><rect x="1603" y="87" width="2" height="1" fill="#000"/><rect x="1603" y="120" width="2" height="1" fill="#000"/><rect x="1603" y="153" width="2" height="1" fill="#000"/><rect x="1603" y="186" width="2" height="1" fill="#000"/><rect x="1603" y="219" width="2" height="1" fill="#000"/><rect x="1603" y="252" width="2" height="1" fill="#000"/><rect x="1603" y="285" width="2" height="1" fill="#000"/><rect x="1603" y="318" width="2" height="1" fill="#000"/><rect x="1603" y="351" width="2" height="1" fill="#000"/><rect x="1603" y="384" width="2" height="1" fill="#000"/><rect x="1603" y="417" width="2" height="1" fill="#000"/><rect x="1603" y="450" width="2" height="1" fill="#000"/><rect x="1603" y="483" width="2" height="1" fill="#000"/><rect x="1603" y="516" width="2" height="1" fill="#000"/><rect x="1603" y="549" width="2" height="1" fill="#000"/><rect x="1603" y="582" width="2" height="1" fill="#000"/><rect x="1603" y="665" width="1" height="1" fill="#000"/><rect x="1603" y="736" width="1" height="1" fill="#000"/><rect x="1603" y="758" width="1" height="1" fill="#000"/><rect x="1603" y="784" width="1" height="1" fill="#000"/><rect x="1603" y="620" width="1" height="1" fill="#000"/><rect x="1603" y="718" width="1" height="1" fill="#000"/><rect x="1603" y="720" width="1" height="1" fill="#000"/><rect x="1603" y="795" width="1" height="1" fill="#000"/><rect x="5" y="796" width="1" height="3" fill="#000"/><rect x="69" y="796" width="1" height="3" fill="#000"/><rect x="133" y="796" width="1" height="3" fill="#000"/><rect x="197" y="796" width="1" height="3" fill="#000"/><rect x="261" y="796" width="1" height="3" fill="#000"/><rect x="325" y="796" width="1" height="3" fill="#000"/><rect x="389" y="796" width="1" height="3" fill="#000"/><rect x="453" y="796" width="1" height="3" fill="#000"/><rect x="517" y="796" width="1" height="3" fill="#000"/><rect x="581" y="796" width="1" height="3" fill="#000"/><rect x="645" y="796" width="1" height="3" fill="#000"/><rect x="709" y="796" width="1" height="3" fill="#000"/><rect x="773" y="796" width="1" height="3" fill="#000"/><rect x="837" y="796" width="1" height="3" fill="#000"/><rect x="901" y="796" width="1" height="3" fill="#000"/><rect x="965" y="796" width="1" height="3" fill="#000"/><rect x="1029" y="796" width="1" height="3" fill="#000"/><rect x="1093" y="796" width="1" height="3" fill="#000"/><rect x="1157" y="796" width="1" height="3" fill="#000"/><rect x="1221" y="796" width="1" height="3" fill="#000"/></svg>
<div class="t n" style="left:1608px;top:50px;">4327.330</div><div class="t n" style="left:1608px;top:83px;">4307.610</div><div class="t n" style="left:1608px;top:116px;">4288.470</div><div class="t n" style="left:1608px;top:149px;">4269.330</div><div class="t n" style="left:1608px;top:182px;">4250.190</div><div class="t n" style="left:1608px;top:215px;">4231.050</div><div class="t n" style="left:1608px;top:248px;">4211.910</div><div class="t n" style="left:1608px;top:281px;">4192.770</div><div class="t n" style="left:1608px;top:314px;">4173.630</div><div class="t n" style="left:1608px;top:347px;">4153.910</div><div class="t n" style="left:1608px;top:380px;">4134.770</div><div class="t n" style="left:1608px;top:413px;">4115.630</div><div class="t n" style="left:1608px;top:446px;">4096.490</div><div class="t n" style="left:1608px;top:479px;">4077.350</div><div class="t n" style="left:1608px;top:512px;">4058.210</div><div class="t n" style="left:1608px;top:545px;">4039.070</div><div class="t n" style="left:1608px;top:578px;">4019.930</div><div class="tag" style="top:459px;background:#f00">4087.650</div><div class="tag" style="top:494px;background:#f00">4067.618</div><div class="tag" style="top:530px;background:#ff8c00">4046.699</div><div class="tag" style="top:550px;background:#000">4035.250</div><div class="tag" style="top:583px;background:#00f">4015.366</div><div class="tag" style="top:611px;background:#00f">3999.050</div><div class="t n" style="left:1606px;top:623px;">36.3022</div><div class="t n" style="left:1606px;top:661px;">0.00</div><div class="t n" style="left:1606px;top:707px;">-44.5519</div><div class="t n" style="left:1606px;top:723px;">100</div><div class="t n" style="left:1606px;top:732px;">80</div><div class="t n" style="left:1606px;top:754px;">50</div><div class="t n" style="left:1606px;top:780px;">15</div><div class="t n" style="left:1606px;top:785px;">0</div><div class="t " style="left:4px;top:799px;">10 Aug 2022</div><div class="t " style="left:68px;top:799px;">11 Aug 12:00</div><div class="t " style="left:132px;top:799px;">12 Aug 04:00</div><div class="t " style="left:196px;top:799px;">14 Aug 23:00</div><div class="t " style="left:260px;top:799px;">15 Aug 12:00</div><div class="t " style="left:324px;top:799px;">16 Aug 04:00</div><div class="t " style="left:388px;top:799px;">16 Aug 20:00</div><div class="t " style="left:452px;top:799px;">17 Aug 12:00</div><div class="t " style="left:516px;top:799px;">18 Aug 04:00</div><div class="t " style="left:580px;top:799px;">18 Aug 20:00</div><div class="t " style="left:644px;top:799px;">19 Aug 12:00</div><div class="t " style="left:708px;top:799px;">22 Aug 04:00</div><div class="t " style="left:772px;top:799px;">22 Aug 20:00</div><div class="t " style="left:836px;top:799px;">23 Aug 12:00</div><div class="t " style="left:900px;top:799px;">24 Aug 04:00</div><div class="t " style="left:964px;top:799px;">24 Aug 20:00</div><div class="t " style="left:1028px;top:799px;">25 Aug 12:00</div><div class="t " style="left:1092px;top:799px;">26 Aug 04:00</div><div class="t " style="left:1156px;top:799px;">28 Aug 23:00</div><div class="t " style="left:1220px;top:799px;">29 Aug 12:00</div><div class="t n" style="left:20px;top:29px;letter-spacing:.3px">SP500-,H4</div><div class="t n" style="left:70.5px;top:29px;letter-spacing:-.1px;word-spacing:1px">4035.250 4035.250 4035.250 4035.250</div><div class="t " style="left:9px;top:624px;transform:scaleX(1.17);transform-origin:0 0">MACD</div><div class="t " style="left:38.5px;top:624px;letter-spacing:-.15px">(12,26,9) -40.5048 -33.7726</div><div class="t " style="left:9px;top:724px;">RSI(14) 31.7779</div>
</body></html>
